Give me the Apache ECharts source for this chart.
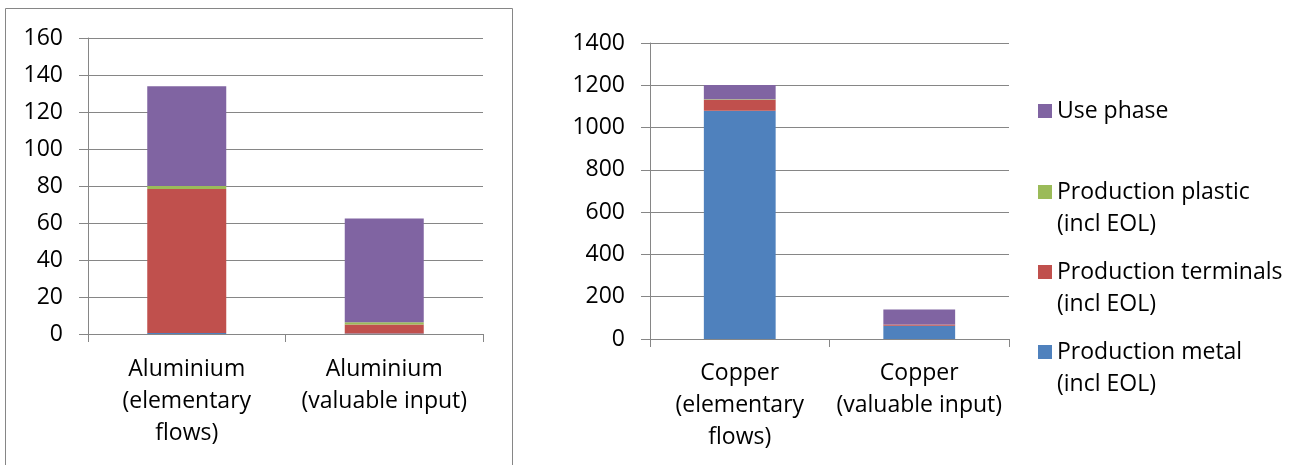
<!DOCTYPE html>
<html>
<head>
<meta charset="utf-8">
<script src="https://cdn.jsdelivr.net/npm/echarts@6/dist/echarts.min.js"></script>
<style>
html,body{margin:0;padding:0;background:#fff;}
#c{width:1295px;height:465px;}
</style>
</head>
<body>
<div id="c"></div>
<script>
// ---- data ----
const alCategories = ['Aluminium\n(elementary\nflows)', 'Aluminium\n(valuable input)'];
const cuCategories = ['Copper\n(elementary\nflows)', 'Copper\n(valuable input)'];
const seriesNames = ['Production metal (incl EOL)', 'Production terminals (incl EOL)', 'Production plastic (incl EOL)', 'Use phase'];
const alMetal = [0.6, 0.3];
const alTerminals = [77.8, 4.8];
const alPlastic = [1.6, 1.2];
const alUse = [53.9, 56.1];
const cuMetal = [1080, 63];
const cuTerminals = [52, 5];
const cuPlastic = [2, 1];
const cuUse = [67, 71];
const alTicks = {min: 0, max: 160, interval: 20};
const cuTicks = {min: 0, max: 1400, interval: 200};

const colors = ['#4F81BD', '#C0504D', '#9BBB59', '#8064A2'];
const FONT = 'Open Sans';
const gray = '#868686';

const chart = echarts.init(document.getElementById('c'));

function yAx(gi, t) {
  return {
    type: 'value', gridIndex: gi, min: t.min, max: t.max, interval: t.interval,
    axisLine: {show: true, lineStyle: {color: gray, width: 1}},
    axisTick: {show: true, length: 9, lineStyle: {color: gray}},
    splitLine: {show: true, lineStyle: {color: gray, width: 1}},
    axisLabel: {fontFamily: FONT, fontSize: 23, color: '#000', margin: 25, formatter: v => String(v)}
  };
}
function xAx(gi, cats, margin) {
  return {
    type: 'category', gridIndex: gi, data: cats,
    axisLine: {show: true, lineStyle: {color: gray, width: 1}},
    axisTick: {show: true, length: 8, lineStyle: {color: gray}},
    axisLabel: {fontFamily: FONT, fontSize: 23, color: '#000', margin: margin, lineHeight: 32, interval: 0, align: 'center'}
  };
}
const alData = [alMetal, alTerminals, alPlastic, alUse];
const cuData = [cuMetal, cuTerminals, cuPlastic, cuUse];
const series = [];
alData.forEach((d, i) => series.push({
  name: seriesNames[i], type: 'bar', stack: 'al', xAxisIndex: 0, yAxisIndex: 0,
  data: d, barWidth: '40%', itemStyle: {color: colors[i]}
}));
cuData.forEach((d, i) => series.push({
  name: seriesNames[i], type: 'bar', stack: 'cu', xAxisIndex: 1, yAxisIndex: 1,
  data: d, barWidth: '40%', itemStyle: {color: colors[i]}
}));

const legendLabels = {
  'Use phase': 'Use phase',
  'Production plastic (incl EOL)': ' \nProduction plastic\n(incl EOL)',
  'Production terminals (incl EOL)': ' \nProduction terminals\n(incl EOL)',
  'Production metal (incl EOL)': ' \nProduction metal\n(incl EOL)'
};
const legendCenters = {'Use phase': 111, 'Production plastic (incl EOL)': 192, 'Production terminals (incl EOL)': 272, 'Production metal (incl EOL)': 352};
const legends = Object.keys(legendCenters).map(n => {
  const multi = n !== 'Use phase';
  return {
    data: [n], left: 1038, top: legendCenters[n] - (multi ? 48 : 16),
    padding: 0, icon: 'rect', itemWidth: 14, itemHeight: 14, selectedMode: false,
    formatter: nm => legendLabels[nm],
    textStyle: {fontFamily: FONT, fontSize: 23, color: '#000', lineHeight: 32}
  };
});

chart.setOption({
  animation: false,
  textStyle: {fontFamily: FONT},
  grid: [
    {left: 88, top: 38, width: 395, height: 296},
    {left: 650, top: 43, width: 359, height: 296}
  ],
  xAxis: [xAx(0, alCategories, 19), xAx(1, cuCategories, 18)],
  yAxis: [yAx(0, alTicks), yAx(1, cuTicks)],
  legend: legends,
  graphic: [{
    type: 'rect', shape: {x: 5.5, y: 8.5, width: 507, height: 480},
    style: {fill: 'none', stroke: gray, lineWidth: 1}, silent: true
  }],
  series: series
});
</script>
</body>
</html>
